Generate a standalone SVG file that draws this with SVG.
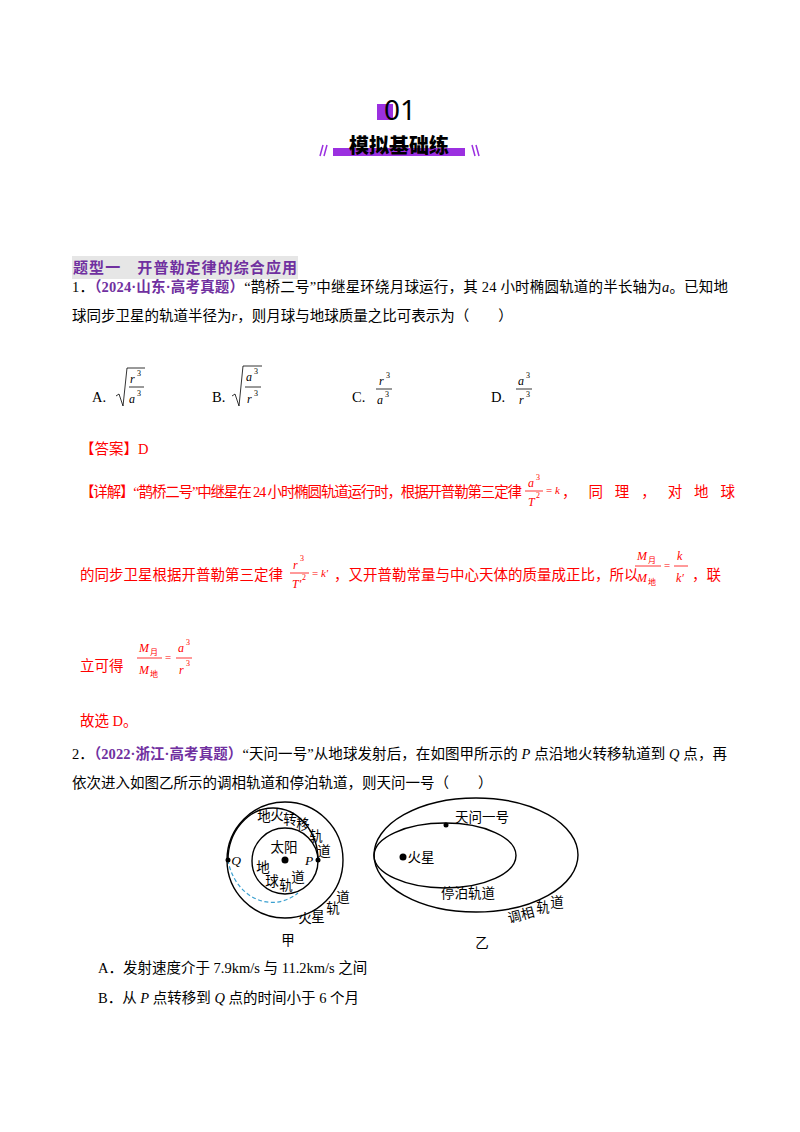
<svg xmlns="http://www.w3.org/2000/svg" width="800" height="1132" viewBox="0 0 800 1132">
<style>
text{font-family:"Liberation Serif","Noto Sans CJK SC",serif;font-size:14.5px;fill:#000}
.r{fill:#f00}
.p{fill:#7030a0;font-weight:bold}
.m{font-style:italic}
.s{font-size:8px}
.f{font-size:12px;font-style:italic}
.ln{stroke:#000;stroke-width:0.8;fill:none}
.lr{stroke:#f00;stroke-width:0.8;fill:none}
.orb{stroke:#000;stroke-width:1.4;fill:none}
.d{fill:#000}
.c{text-anchor:middle;font-size:13.5px}
</style>
<rect width="800" height="1132" fill="#fff"/>
<g id="title">
<rect x="377" y="104" width="16" height="16" fill="#9b30e0"/>
<text x="400" y="120" text-anchor="middle" style="font-family:'Noto Sans','Noto Sans CJK SC',sans-serif;font-size:28px">01</text>
<rect x="333" y="148" width="132" height="8" fill="#9b30e0"/>
<text x="399" y="153" text-anchor="middle" style="font-family:'Noto Sans CJK SC',sans-serif;font-size:20px;font-weight:900">模拟基础练</text>
<path d="M320 156 L323 145 M324 156 L327 145 M472 145 L475 156 M476 145 L479 156" stroke="#9b30e0" stroke-width="1.5"/>
</g>
<g id="heading">
<rect x="72" y="256" width="226" height="23" fill="#e6e6e6"/>
<text x="73" y="273" style="font-family:'Noto Sans CJK SC',sans-serif;font-weight:bold;font-size:15px;fill:#7030a0" textLength="224">题型一　开普勒定律的综合应用</text>
</g>
<g id="q1">
<text x="72" y="292" textLength="656">1．<tspan class="p">（2024·山东·高考真题）</tspan>“鹊桥二号”中继星环绕月球运行，其 24 小时椭圆轨道的半长轴为<tspan class="m">a</tspan>。已知地</text>
<text x="72" y="321">球同步卫星的轨道半径为<tspan class="m">r</tspan>，则月球与地球质量之比可表示为（　　）</text>
<text x="92" y="402">A.</text>
<path class="ln" d="M116 396 L119 394 L123 406 L127 368 L145 368"/>
<text class="f" x="130" y="383">r</text><text class="s" x="137" y="376">3</text>
<line class="ln" x1="129" y1="387" x2="144" y2="387"/>
<text class="f" x="129" y="403">a</text><text class="s" x="137" y="396">3</text>
<text x="212" y="402">B.</text>
<path class="ln" d="M232 396 L235 394 L239 406 L243 366 L262 366"/>
<text class="f" x="246" y="381">a</text><text class="s" x="254" y="374">3</text>
<line class="ln" x1="245" y1="387" x2="261" y2="387"/>
<text class="f" x="247" y="403">r</text><text class="s" x="254" y="396">3</text>
<text x="352" y="402">C.</text>
<text class="f" x="379" y="385">r</text><text class="s" x="386" y="378">3</text>
<line class="ln" x1="376" y1="389" x2="392" y2="389"/>
<text class="f" x="377" y="404">a</text><text class="s" x="385" y="397">3</text>
<text x="491" y="402">D.</text>
<text class="f" x="518" y="385">a</text><text class="s" x="526" y="378">3</text>
<line class="ln" x1="516" y1="389" x2="532" y2="389"/>
<text class="f" x="519" y="404">r</text><text class="s" x="526" y="397">3</text>
</g>
<g id="answer">
<text class="r" x="80" y="454">【答案】D</text>
<text class="r" x="80" y="497" textLength="442">【详解】“鹊桥二号”中继星在 24 小时椭圆轨道运行时，根据开普勒第三定律</text>
<text class="f r" x="528" y="487">a</text><text class="s r" x="536" y="480">3</text>
<line class="lr" x1="525" y1="491" x2="543" y2="491"/>
<text class="f r" x="528" y="506">T</text><text class="s r" x="536" y="498">2</text>
<text class="r" x="546" y="494" style="font-size:11px">= <tspan font-style="italic">k</tspan></text>
<text class="r" x="562" y="497" textLength="173">，同理，对地球</text>
<text class="r" x="80" y="580">的同步卫星根据开普勒第三定律</text>
<text class="f r" x="293" y="569">r</text><text class="s r" x="300" y="561">3</text>
<line class="lr" x1="290" y1="573" x2="309" y2="573"/>
<text class="f r" x="292" y="588">T′</text><text class="s r" x="302" y="580">2</text>
<text class="r" x="312" y="577" style="font-size:11px">= <tspan font-style="italic">k′</tspan></text>
<text class="r" x="334" y="580">，又开普勒常量与中心天体的质量成正比，所以</text>
<text class="f r" x="637" y="560">M</text><text class="s r" x="648" y="563">月</text>
<line class="lr" x1="635" y1="566" x2="661" y2="566"/>
<text class="f r" x="637" y="582">M</text><text class="s r" x="648" y="585">地</text>
<text class="r" x="664" y="569" style="font-size:11px">=</text>
<text class="f r" x="677" y="560">k</text>
<line class="lr" x1="674" y1="566" x2="688" y2="566"/>
<text class="f r" x="676" y="582">k′</text>
<text class="r" x="692" y="580">，联</text>
<text class="r" x="80" y="671">立可得</text>
<text class="f r" x="139" y="652">M</text><text class="s r" x="150" y="655">月</text>
<line class="lr" x1="137" y1="658" x2="162" y2="658"/>
<text class="f r" x="139" y="674">M</text><text class="s r" x="150" y="677">地</text>
<text class="r" x="165" y="661" style="font-size:11px">=</text>
<text class="f r" x="178" y="652">a</text><text class="s r" x="186" y="645">3</text>
<line class="lr" x1="176" y1="658" x2="192" y2="658"/>
<text class="f r" x="179" y="674">r</text><text class="s r" x="186" y="666">3</text>
<text class="r" x="80" y="726">故选 D。</text>
</g>
<g id="q2">
<text x="72" y="759" textLength="655">2．<tspan class="p">（2022·浙江·高考真题）</tspan>“天问一号”从地球发射后，在如图甲所示的 <tspan class="m">P</tspan> 点沿地火转移轨道到 <tspan class="m">Q</tspan> 点，再</text>
<text x="72" y="788">依次进入如图乙所示的调相轨道和停泊轨道，则天问一号（　　）</text>
<text x="98" y="973">A．发射速度介于 7.9km/s 与 11.2km/s 之间</text>
<text x="98" y="1003">B．从 <tspan class="m">P</tspan> 点转移到 <tspan class="m">Q</tspan> 点的时间小于 6 个月</text>
</g>
<g id="jia">
<circle class="orb" cx="285" cy="860" r="58"/>
<circle class="orb" cx="285" cy="861" r="33"/>
<path class="orb" d="M228 860 A45 52 0 0 1 318 860"/>
<path d="M228 860 A45 52 0 0 0 298 893" stroke="#3aa0d0" stroke-width="1.2" stroke-dasharray="4 2.5" fill="none"/>
<circle class="d" cx="285" cy="860" r="3.5"/>
<circle class="d" cx="228" cy="860" r="2.5"/>
<circle class="d" cx="318" cy="860" r="2.5"/>
<text class="m c" x="236" y="865">Q</text>
<text class="m c" x="309" y="865">P</text>
<text class="c" x="284" y="852">太阳</text>
<text class="c" x="264" y="821">地</text><text class="c" x="277" y="820">火</text><text class="c" x="290" y="824">转</text><text class="c" x="303" y="829">移</text><text class="c" x="316" y="841">轨</text><text class="c" x="324" y="856">道</text>
<text class="c" x="263" y="872">地</text><text class="c" x="272" y="886">球</text><text class="c" x="286" y="890">轨</text><text class="c" x="298" y="882">道</text>
<text class="c" x="343" y="902">道</text><text class="c" x="333" y="913">轨</text><text class="c" x="305" y="923">火</text><text class="c" x="318" y="921">星</text>
<text class="c" x="288" y="945">甲</text>
</g>
<g id="yi">
<ellipse class="orb" cx="476" cy="855" rx="102" ry="57"/>
<ellipse class="orb" cx="445" cy="855.5" rx="71" ry="32.5"/>
<circle class="d" cx="403" cy="857" r="3.5"/>
<circle class="d" cx="446" cy="825" r="2.5"/>
<text class="c" x="482" y="822">天问一号</text>
<text class="c" x="421" y="862">火星</text>
<text class="c" x="468" y="898">停泊轨道</text>
<text class="c" x="521" y="920" transform="rotate(-15 521 915)">调相</text><text class="c" x="543" y="912">轨</text><text class="c" x="557" y="907">道</text>
<text class="c" x="482" y="948">乙</text>
</g>
</svg>
